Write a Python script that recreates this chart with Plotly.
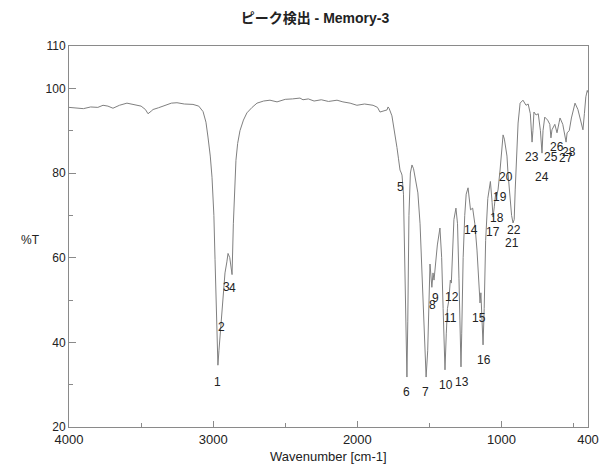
import plotly.graph_objects as go

# Spectrum (wavenumber, %T)
wavenumber = [4000, 3950, 3900, 3850, 3800, 3764, 3730, 3695, 3650, 3598, 3550, 3500, 3470, 3452, 3430,
              3417, 3380, 3330, 3290, 3251, 3200, 3140, 3100, 3070, 3050, 3036, 3020, 3008, 2995, 2987,
              2978, 2973, 2967, 2960, 2953, 2945, 2938, 2932, 2918, 2905, 2897, 2885, 2869, 2860, 2850,
              2842, 2830, 2814, 2790, 2766, 2730, 2696, 2650, 2606, 2557, 2500, 2450, 2398, 2377, 2340,
              2300, 2250, 2200, 2141, 2100, 2050, 2003, 1950, 1891, 1860, 1843, 1820, 1794, 1787, 1780,
              1760, 1751, 1740, 1725, 1715, 1704, 1695, 1690, 1680, 1670, 1662, 1656, 1650, 1642, 1632,
              1621, 1610, 1595, 1580, 1565, 1550, 1535, 1523, 1512, 1503, 1496, 1483, 1475, 1468, 1460,
              1445, 1427, 1415, 1405, 1392, 1383, 1375, 1365, 1355, 1348, 1340, 1330, 1316, 1305, 1295,
              1285, 1281, 1276, 1266, 1255, 1245, 1232, 1222, 1215, 1200, 1185, 1170, 1158, 1149, 1143,
              1135, 1128, 1120, 1110, 1095, 1077, 1065, 1059, 1050, 1040, 1035, 1024, 1010, 1000, 989,
              980, 969, 962, 955, 945, 930, 920, 912, 905, 895, 885, 871, 851, 830, 815,
              800, 788, 782, 775, 760, 745, 730, 719, 712, 700, 680, 665, 657, 650, 630,
              615, 600, 594, 575, 560, 552, 545, 530, 515, 490, 470, 450, 435, 425, 415,
              405, 400]
transmittance = [95.5, 95.4, 95.2, 95.6, 95.5, 96.0, 95.8, 95.3, 96.0, 96.5, 96.2, 95.8, 95.0, 94.0, 94.6,
                 95.0, 95.4, 96.0, 96.5, 96.6, 96.3, 96.2, 95.8, 94.5, 92.0, 88.5, 84.0, 79.0, 70.0, 59.5,
                 50.0, 43.6, 34.6, 38.0, 41.0, 46.0, 47.0, 51.6, 56.4, 59.0, 61.0, 60.0, 56.0, 68.0, 78.0,
                 83.0, 87.0, 90.0, 92.5, 94.2, 95.5, 96.5, 97.0, 97.2, 96.8, 97.4, 97.5, 97.7, 97.3, 97.5,
                 97.0, 97.3, 96.9, 97.2, 96.8, 96.5, 96.0, 96.3, 96.0, 95.5, 94.4, 94.6, 94.9, 95.6, 95.3,
                 93.5, 91.8, 89.5, 86.0, 83.5, 80.7, 80.0, 79.5, 75.0, 60.0, 45.0, 31.8, 45.0, 70.0, 80.0,
                 81.9, 81.0, 78.5, 75.3, 68.0, 55.0, 40.0, 31.8, 38.0, 50.0, 58.5, 53.0, 56.4, 54.7, 58.0,
                 63.0, 67.0, 60.0, 48.0, 33.5, 42.0, 48.0, 50.0, 54.7, 54.0, 62.0, 69.0, 71.7, 68.0, 55.0,
                 40.0, 34.2, 42.0, 60.0, 70.0, 75.0, 76.5, 74.0, 71.3, 71.7, 68.0, 61.8, 52.4, 49.3, 51.7,
                 45.0, 39.4, 48.0, 64.0, 74.0, 78.0, 73.0, 69.6, 72.0, 75.3, 74.5, 76.0, 80.7, 85.0, 89.0,
                 88.0, 85.0, 84.0, 80.0, 75.0, 70.0, 68.2, 69.0, 76.0, 83.8, 91.8, 96.5, 97.2, 96.0, 96.3,
                 94.0, 87.3, 90.0, 94.4, 93.7, 94.0, 90.0, 84.7, 90.0, 93.2, 92.5, 91.5, 88.3, 90.2, 91.5,
                 89.5, 92.0, 93.0, 91.5, 89.0, 87.3, 89.5, 90.0, 93.0, 96.5, 95.0, 92.0, 90.2, 94.0, 98.0,
                 99.5, 99.0]

# Peak labels (number, wavenumber, %T at label)
peak_numbers = [str(i) for i in range(1, 29)]
peak_wn = [2967, 2939, 2911, 2869, 1704, 1656, 1524, 1482, 1461, 1385, 1357, 1343, 1274, 1212,
           1156, 1121, 1059, 1031, 1010, 969, 927, 913, 788, 719, 657, 615, 553, 532]
peak_T = [30.6, 43.6, 53.1, 52.8, 76.7, 28.3, 28.3, 48.8, 50.5, 29.9, 45.8, 50.7, 30.6, 66.5,
          45.8, 35.8, 66.1, 69.4, 74.3, 79.1, 63.5, 66.5, 83.8, 79.1, 83.8, 86.1, 83.5, 85.0]

x_tickvals = [4000, 3000, 2000, 1000, 400]
x_minor = [3500, 2500, 1500, 500]
y_tickvals = [20, 40, 60, 80, 100, 110]
y_minor = [30, 50, 70, 90]

FONT = "Liberation Sans, Arial, Noto Sans CJK JP, sans-serif"
AXIS = "#8a8a8a"

fig = go.Figure()
fig.add_trace(go.Scatter(x=wavenumber, y=transmittance, mode="lines",
                         line=dict(color="#808080", width=1), hoverinfo="skip",
                         showlegend=False))

for n, wx, ty in zip(peak_numbers, peak_wn, peak_T):
    fig.add_annotation(x=wx, y=ty, text=n, showarrow=False,
                       font=dict(family=FONT, size=12, color="#222222"),
                       xanchor="center", yanchor="middle")

fig.add_annotation(xref="paper", yref="paper", x=0, y=0.49, xshift=-39, text="%T",
                   showarrow=False, font=dict(family=FONT, size=12, color="#222222"),
                   xanchor="center", yanchor="middle")
fig.add_annotation(xref="paper", yref="paper", x=0.5, y=0, yshift=-29,
                   text="Wavenumber [cm-1]", showarrow=False,
                   font=dict(family=FONT, size=13, color="#222222"),
                   xanchor="center", yanchor="middle")

fig.update_layout(
    width=601, height=466,
    margin=dict(l=69, r=13, t=46, b=39, autoexpand=False),
    paper_bgcolor="white", plot_bgcolor="white",
    title=dict(text="<b>ピーク検出 - Memory-3</b>", x=315/601, xanchor="center",
               y=1 - 18/466, yanchor="middle",
               font=dict(family="Liberation Sans, Noto Sans CJK JP, sans-serif", size=14, color="#222222")),
    xaxis=dict(range=[4000, 400], tickvals=x_tickvals, ticktext=[str(v) for v in x_tickvals],
               ticks="inside", ticklen=6, tickcolor=AXIS, showgrid=False, zeroline=False,
               showline=True, linecolor=AXIS, linewidth=1, mirror=True, automargin=False,
               tickfont=dict(family=FONT, size=13, color="#222222"),
               minor=dict(tickvals=x_minor, ticks="inside", ticklen=4, tickcolor=AXIS, showgrid=False)),
    yaxis=dict(range=[20, 110], tickvals=y_tickvals, ticktext=[str(v) for v in y_tickvals],
               ticks="inside", ticklen=7, tickcolor=AXIS, showgrid=False, zeroline=False,
               showline=True, linecolor=AXIS, linewidth=1, mirror=True, automargin=False,
               tickfont=dict(family=FONT, size=12, color="#222222"),
               minor=dict(tickvals=y_minor, ticks="inside", ticklen=4, tickcolor=AXIS, showgrid=False)),
)

fig.write_html("out.html")
